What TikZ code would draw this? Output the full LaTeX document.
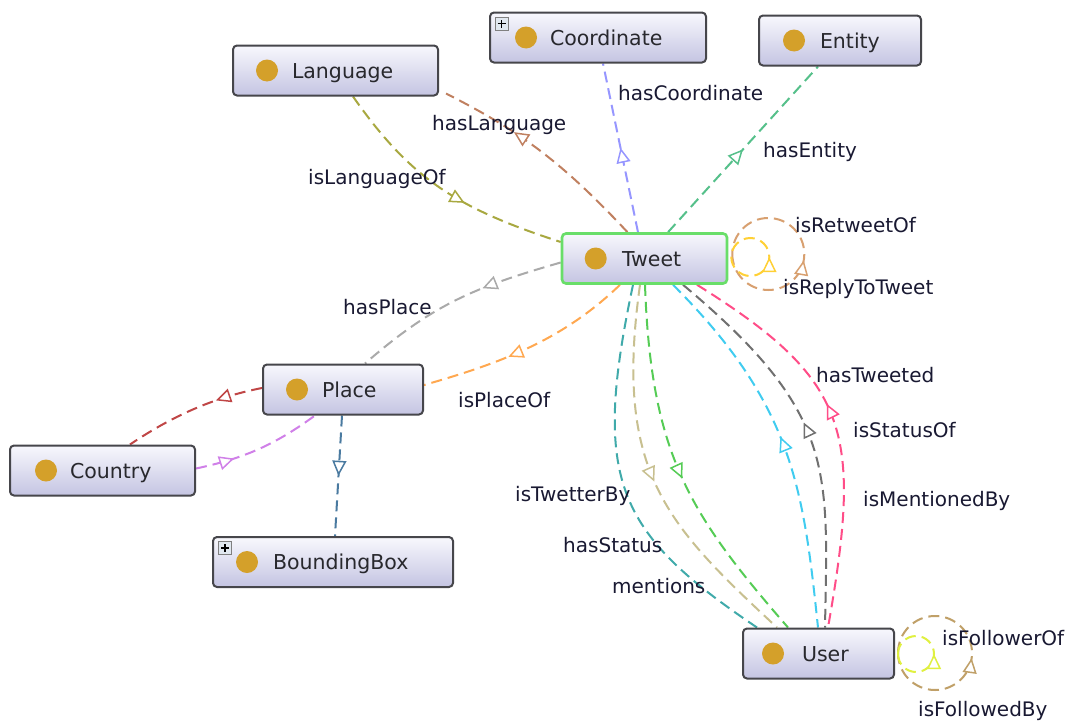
\documentclass[tikz,border=0pt]{standalone}
\usepackage{fontspec}
\setmainfont{DejaVu Sans}
\usetikzlibrary{arrows.meta,decorations.markings,calc}
\pgfdeclarelayer{bg}
\pgfsetlayers{bg,main}
\definecolor{nbord}{RGB}{70,70,75}
\definecolor{ntop}{RGB}{248,248,253}
\definecolor{nbot}{RGB}{196,196,226}
\definecolor{ntext}{RGB}{40,40,45}
\definecolor{lblc}{RGB}{25,25,50}
\definecolor{tgreen}{RGB}{105,222,105}
\definecolor{dotc}{RGB}{212,160,42}
\definecolor{cBrown}{RGB}{192,128,96}
\definecolor{cOlive}{RGB}{168,168,64}
\definecolor{cBlue}{RGB}{150,150,255}
\definecolor{cEnt}{RGB}{85,192,138}
\definecolor{cGray}{RGB}{170,170,170}
\definecolor{cOrange}{RGB}{255,168,80}
\definecolor{cRed}{RGB}{192,70,70}
\definecolor{cViolet}{RGB}{208,128,232}
\definecolor{cSteel}{RGB}{74,122,160}
\definecolor{cTeal}{RGB}{64,170,170}
\definecolor{cKhaki}{RGB}{200,192,144}
\definecolor{cGreen}{RGB}{85,204,85}
\definecolor{cCyan}{RGB}{64,204,240}
\definecolor{cDGray}{RGB}{112,112,112}
\definecolor{cPink}{RGB}{255,77,136}
\definecolor{cRet}{RGB}{216,160,112}
\definecolor{cRep}{RGB}{255,208,53}
\definecolor{cFol}{RGB}{192,160,104}
\definecolor{cFod}{RGB}{224,240,64}
\definecolor{pfill}{RGB}{225,232,240}
\newcommand\nodefnt{\fontsize{20.5}{24}\selectfont}
\newcommand\lblfnt{\fontsize{20}{24}\selectfont}
\tikzset{
  tipA/.tip={Triangle[fill=white,length=15pt,width=14pt,line width=1.5pt]},
}
\begin{document}
\begin{tikzpicture}[x=1pt,y=1pt,
  cls/.style={draw=nbord, line width=2pt, rounded corners=4pt, top color=ntop, bottom color=nbot,
    minimum height=50pt, inner xsep=0pt, inner ysep=0pt, align=left, text height=15pt, text depth=0pt,
    font=\nodefnt, text=ntext},
  lbl/.style={anchor=base west, inner sep=0pt, font=\lblfnt, text=lblc},
  e/.style={line width=2pt, dash pattern=on 11pt off 6pt},
  marr/.style={postaction={decorate,decoration={markings,mark=at position #1 with {\arrow{tipA}}}}},
  rarr/.style={postaction={decorate,decoration={markings,mark=at position #1 with {\arrowreversed{tipA}}}}},
  plusbox/.style={draw=gray, fill=pfill, minimum size=13pt, inner sep=0pt, line width=0.8pt,
    path picture={\draw[line width=1.4pt,black]
      ([xshift=-4pt]path picture bounding box.center) -- ([xshift=4pt]path picture bounding box.center)
      ([yshift=-4pt]path picture bounding box.center) -- ([yshift=4pt]path picture bounding box.center);}},
]
\useasboundingbox (0,0) rectangle (1075,-720);

% classes
\node[cls,text width=205pt] (Language) at (335.5,-70.5) {\hspace*{59pt}Language};
\node[cls,text width=216pt] (Coordinate) at (598,-37.5) {\hspace*{60pt}Coordinate};
\node[cls,text width=162pt] (Entity) at (840,-40.5) {\hspace*{61pt}Entity};
\node[cls,text width=165pt,draw=tgreen,line width=2.6pt] (Tweet) at (644.5,-258.5) {\hspace*{60pt}Tweet};
\node[cls,text width=160pt] (Place) at (343,-389.5) {\hspace*{59pt}Place};
\node[cls,text width=185pt] (Country) at (102.5,-470.5) {\hspace*{60pt}Country};
\node[cls,text width=240pt] (BoundingBox) at (333,-562) {\hspace*{60pt}BoundingBox};
\node[cls,text width=151pt] (User) at (818.5,-653.5) {\hspace*{59pt}User};

% dots
\fill[dotc] ([xshift=35pt]Language.west) circle[radius=11pt];
\fill[dotc] ([xshift=37pt]Coordinate.west) circle[radius=11pt];
\fill[dotc] ([xshift=36pt]Entity.west) circle[radius=11pt];
\fill[dotc] ([xshift=35pt]Tweet.west) circle[radius=11pt];
\fill[dotc] ([xshift=35pt]Place.west) circle[radius=11pt];
\fill[dotc] ([xshift=37pt]Country.west) circle[radius=11pt];
\fill[dotc] ([xshift=35pt]BoundingBox.west) circle[radius=11pt];
\fill[dotc] ([xshift=31pt]User.west) circle[radius=11pt];

% expand boxes
\node[plusbox] (CoordPlus) at ($(Coordinate.north west)+(12.5,-12)$) {};
\node[plusbox] (BBoxPlus) at ($(BoundingBox.north west)+(13,-12)$) {};

\begin{pgfonlayer}{bg}
\fill[white] (0,0) rectangle (1075,-720);
% Tweet - Language
\draw[e,draw=cBrown,marr=0.66] ([xshift=-17pt]Tweet.north) .. controls +(133:100) and +(-27:80) .. ([xshift=7pt,yshift=3pt]Language.south east);
\draw[e,draw=cOlive,marr=0.6] ([xshift=17.5pt]Language.south) .. controls +(-55:100) and +(162:110) .. ([yshift=16.5pt]Tweet.west);
% Tweet - Coordinate / Entity
\draw[e,draw=cBlue,marr=0.5] ([xshift=-6.5pt]Tweet.north) -- ([xshift=5pt]Coordinate.south);
\draw[e,draw=cEnt,marr=0.5] ([xshift=23.5pt]Tweet.north) -- ([xshift=-22pt]Entity.south);
% Tweet - Place
\draw[e,draw=cGray,marr=0.37] ([yshift=-4pt]Tweet.west) .. controls +(196:90) and +(41:90) .. ([xshift=22pt]Place.north);
\draw[e,draw=cOrange,marr=0.6] ([xshift=-24.5pt]Tweet.south) .. controls +(224:80) and +(16:80) .. ([yshift=4.5pt]Place.east);
% Place - Country
\draw[e,draw=cRed,marr=0.33] ([yshift=1.5pt]Place.west) .. controls +(191:50) and +(34:50) .. ([xshift=27.5pt]Country.north);
\draw[e,draw=cViolet,marr=0.3] ([yshift=2pt]Country.east) .. controls +(12:50) and +(216:50) .. ([xshift=-28pt]Place.south);
% Place - BoundingBox
\draw[e,draw=cSteel,marr=0.5] ([xshift=-1pt]Place.south) -- ([xshift=2pt]BoundingBox.north);
% Tweet - User
\draw[e,draw=cTeal] ([xshift=-11.5pt]Tweet.south) .. controls +(-102:200) and +(146:170) .. ([xshift=-61.5pt]User.north);
\draw[e,draw=cKhaki,marr=0.51] ([xshift=-4.5pt]Tweet.south) .. controls +(-98:190) and +(137:150) .. ([xshift=-41.5pt]User.north);
\draw[e,draw=cGreen,marr=0.52] ([xshift=0.5pt]Tweet.south) .. controls +(-88:170) and +(131:150) .. ([xshift=-30.5pt]User.north);
\draw[e,draw=cCyan,rarr=0.49] ([xshift=28.5pt]Tweet.south) .. controls +(-45:170) and +(96:140) .. ([xshift=-0.5pt]User.north);
\draw[e,draw=cDGray,rarr=0.47] ([xshift=38.5pt]Tweet.south) .. controls +(-40:200) and +(89:160) .. ([xshift=6.5pt]User.north);
\draw[e,draw=cPink,rarr=0.44] ([xshift=52.5pt]Tweet.south) .. controls +(-32:180) and +(80:200) .. ([xshift=9.5pt]User.north);
% self loops
\draw[e,draw=cRet,marr=0.472] ([xshift=4pt,yshift=4.5pt]Tweet.east) arc[start angle=-180,end angle=180,radius=36pt];
\draw[e,draw=cRep,marr=0.5] ([xshift=3pt,yshift=1.5pt]Tweet.east) arc[start angle=-180,end angle=180,radius=19pt];
\draw[e,draw=cFol,marr=0.478] ([xshift=3pt,yshift=0.5pt]User.east) arc[start angle=-180,end angle=180,radius=37pt];
\draw[e,draw=cFod,marr=0.5] ([xshift=3pt,yshift=-0.5pt]User.east) arc[start angle=-180,end angle=180,radius=18pt];
\end{pgfonlayer}

% labels
\node[lbl] (lCoord) at (618,-100) {hasCoordinate};
\node[lbl] (lLang) at (432,-130) {hasLanguage};
\node[lbl] (lLangOf) at (308,-184) {isLanguageOf};
\node[lbl] (lEnt) at (763,-157) {hasEntity};
\node[lbl] (lRet) at (795,-232) {isRetweetOf};
\node[lbl] (lRep) at (783,-294) {isReplyToTweet};
\node[lbl] (lPlace) at (343,-314) {hasPlace};
\node[lbl] (lPlaceOf) at (458,-407) {isPlaceOf};
\node[lbl] (lTw) at (816,-382) {hasTweeted};
\node[lbl] (lStOf) at (853,-437) {isStatusOf};
\node[lbl] (lMenBy) at (863,-506) {isMentionedBy};
\node[lbl] (lTwBy) at (515,-501) {isTwetterBy};
\node[lbl] (lSt) at (563,-552) {hasStatus};
\node[lbl] (lMen) at (612,-593) {mentions};
\node[lbl] (lFolOf) at (942,-645) {isFollowerOf};
\node[lbl] (lFolBy) at (918,-716) {isFollowedBy};
\end{tikzpicture}
\end{document}
